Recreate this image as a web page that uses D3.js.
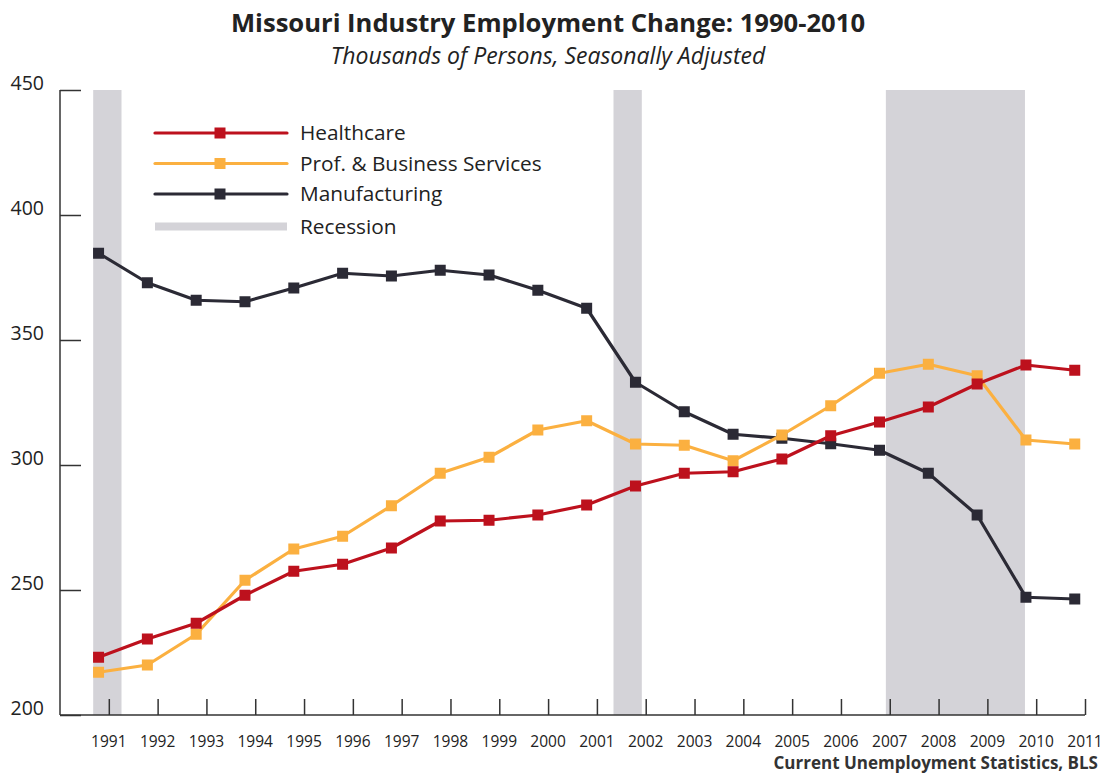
<!DOCTYPE html>
<html>
<head>
<meta charset="utf-8">
<script src="https://cdn.jsdelivr.net/npm/d3@7"></script>
<style>
  body { margin: 0; background: #fff; }
  text { font-family: "Open Sans", sans-serif; fill: #222; }
</style>
</head>
<body>
<div id="wrapper"></div>
<script>
// Annual values, thousands of persons
const years = d3.range(1990, 2011);
const healthcare = [223.1, 230.4, 236.7, 247.9, 257.5, 260.3, 266.8, 277.6, 277.9, 280.0, 284.0,
                    291.6, 296.7, 297.3, 302.4, 311.7, 317.2, 323.2, 332.4, 340.0, 337.9];
const profBusiness = [217.1, 220.0, 232.3, 253.9, 266.4, 271.5, 283.7, 296.7, 303.1, 314.0, 317.7,
                      308.4, 307.9, 301.7, 312.0, 323.7, 336.7, 340.3, 335.7, 310.0, 308.4];
const manufacturing = [384.7, 372.9, 365.9, 365.3, 370.8, 376.7, 375.6, 377.9, 376.0, 369.9, 362.7,
                       333.1, 321.3, 312.3, 310.7, 308.5, 305.9, 296.7, 280.0, 247.1, 246.4];
// recession periods, in axis-year units
const recessions = [[1990.68, 1991.26], [2001.34, 2001.92], [2006.92, 2009.77]];
const tickYears = d3.range(1991, 2012);
const yTicks = [200, 250, 300, 350, 400, 450];

const seriesNames = ["Healthcare", "Prof. & Business Services", "Manufacturing"];
const seriesColors = ["#bd111d", "#fbb040", "#2b2a35"];
const recessionColor = "#d4d3d8";

let width = 1108;
let height = 774;
let margin = {top: 90, right: 23, bottom: 59, left: 60};
let shift = 0.79; // points sit a bit left of the year ticks in the original

let x = d3.scaleLinear().domain([1990, 2011]).range([margin.left, width - margin.right]);
let y = d3.scaleLinear().domain([200, 450]).range([height - margin.bottom, margin.top]);

let svg = d3.select("#wrapper")
 .append("svg")
   .attr("width", width)
   .attr("height", height);

// titles
svg.append("text")
   .attr("x", 548).attr("y", 32)
   .attr("text-anchor", "middle")
   .style("font-size", "25.6px").style("font-weight", "bold")
   .text("Missouri Industry Employment Change: 1990-2010");

svg.append("text")
   .attr("x", 548).attr("y", 64)
   .attr("text-anchor", "middle")
   .style("font-size", "23px").style("font-style", "italic")
   .text("Thousands of Persons, Seasonally Adjusted");

// recession bands go underneath everything
svg.append("g")
  .selectAll("rect")
  .data(recessions)
  .join("rect")
   .attr("x", d => x(d[0]))
   .attr("width", d => x(d[1]) - x(d[0]))
   .attr("y", y(450))
   .attr("height", y(200) - y(450))
   .attr("fill", recessionColor);

// y axis: ticks point inward, labels sit above the tick line
let yAxis = svg.append("g")
   .attr("transform", `translate(${margin.left},0)`)
   .call(d3.axisRight(y).tickValues(yTicks).tickSize(21).tickFormat(""));
yAxis.select(".domain").attr("d", `M0,${y(450)}V${y(200)}`);
yAxis.selectAll("line, path").attr("stroke", "#333").attr("stroke-width", 1.5);

svg.append("g")
  .selectAll("text")
  .data(yTicks)
  .join("text")
   .attr("x", 44)
   .attr("y", d => y(d))
   .attr("text-anchor", "end")
   .style("font-size", "19.5px")
   .text(d => d);

// x axis: ticks point up
let xAxis = svg.append("g")
   .attr("transform", `translate(0,${y(200)})`)
   .call(d3.axisTop(x).tickValues(tickYears).tickSize(16).tickFormat(""));
xAxis.select(".domain").attr("d", `M${x(1990)},0H${x(2011)}`);
xAxis.selectAll("line, path").attr("stroke", "#333").attr("stroke-width", 1.5);

svg.append("g")
  .selectAll("text")
  .data(tickYears)
  .join("text")
   .attr("x", d => x(d))
   .attr("y", 747)
   .attr("text-anchor", "middle")
   .style("font-size", "15.5px")
   .text(d => d);

// the three series
let series = [healthcare, profBusiness, manufacturing].map((vals, i) => ({
   name: seriesNames[i],
   color: seriesColors[i],
   values: vals.map((v, j) => ({year: years[j], value: v}))
}));

let line = d3.line().x(d => x(d.year + shift)).y(d => y(d.value));
let sq = 11;

// manufacturing drawn first so the others sit on top of it
let gSeries = svg.append("g")
  .selectAll("g")
  .data(series.slice().reverse())
  .join("g");

gSeries.append("path")
   .attr("d", d => line(d.values))
   .attr("fill", "none")
   .attr("stroke", d => d.color)
   .attr("stroke-width", 3.2)
   .attr("stroke-linejoin", "round");

gSeries.selectAll("rect")
  .data(d => d.values.map(v => ({...v, color: d.color})))
  .join("rect")
   .attr("x", d => x(d.year + shift) - sq / 2)
   .attr("y", d => y(d.value) - sq / 2)
   .attr("width", sq).attr("height", sq)
   .attr("fill", d => d.color);

// legend
let legend = svg.append("g").attr("transform", "translate(155,133)");
let rowH = 30.5;

let legItem = legend.selectAll("g")
  .data(series)
  .join("g")
   .attr("transform", (d, i) => `translate(0,${i * rowH})`);

legItem.append("line")
   .attr("x1", 0).attr("x2", 132)
   .attr("stroke", d => d.color)
   .attr("stroke-width", 3.2)
   .attr("stroke-linecap", "round");
legItem.append("rect")
   .attr("x", 65 - sq / 2).attr("y", -sq / 2)
   .attr("width", sq).attr("height", sq)
   .attr("fill", d => d.color);
legItem.append("text")
   .attr("x", 145).attr("dy", "0.35em")
   .style("font-size", "20.8px")
   .text(d => d.name);

let recItem = legend.append("g").attr("transform", `translate(0,${3 * rowH + 2})`);
recItem.append("rect")
   .attr("x", 0).attr("y", -4)
   .attr("width", 132).attr("height", 8)
   .attr("fill", recessionColor);
recItem.append("text")
   .attr("x", 145).attr("dy", "0.35em")
   .style("font-size", "20.8px")
   .text("Recession");

// source note
svg.append("text")
   .attr("x", 1098).attr("y", 769)
   .attr("text-anchor", "end")
   .style("font-size", "17px").style("font-weight", "bold")
   .style("fill", "#333")
   .text("Current Unemployment Statistics, BLS");
</script>
</body>
</html>
